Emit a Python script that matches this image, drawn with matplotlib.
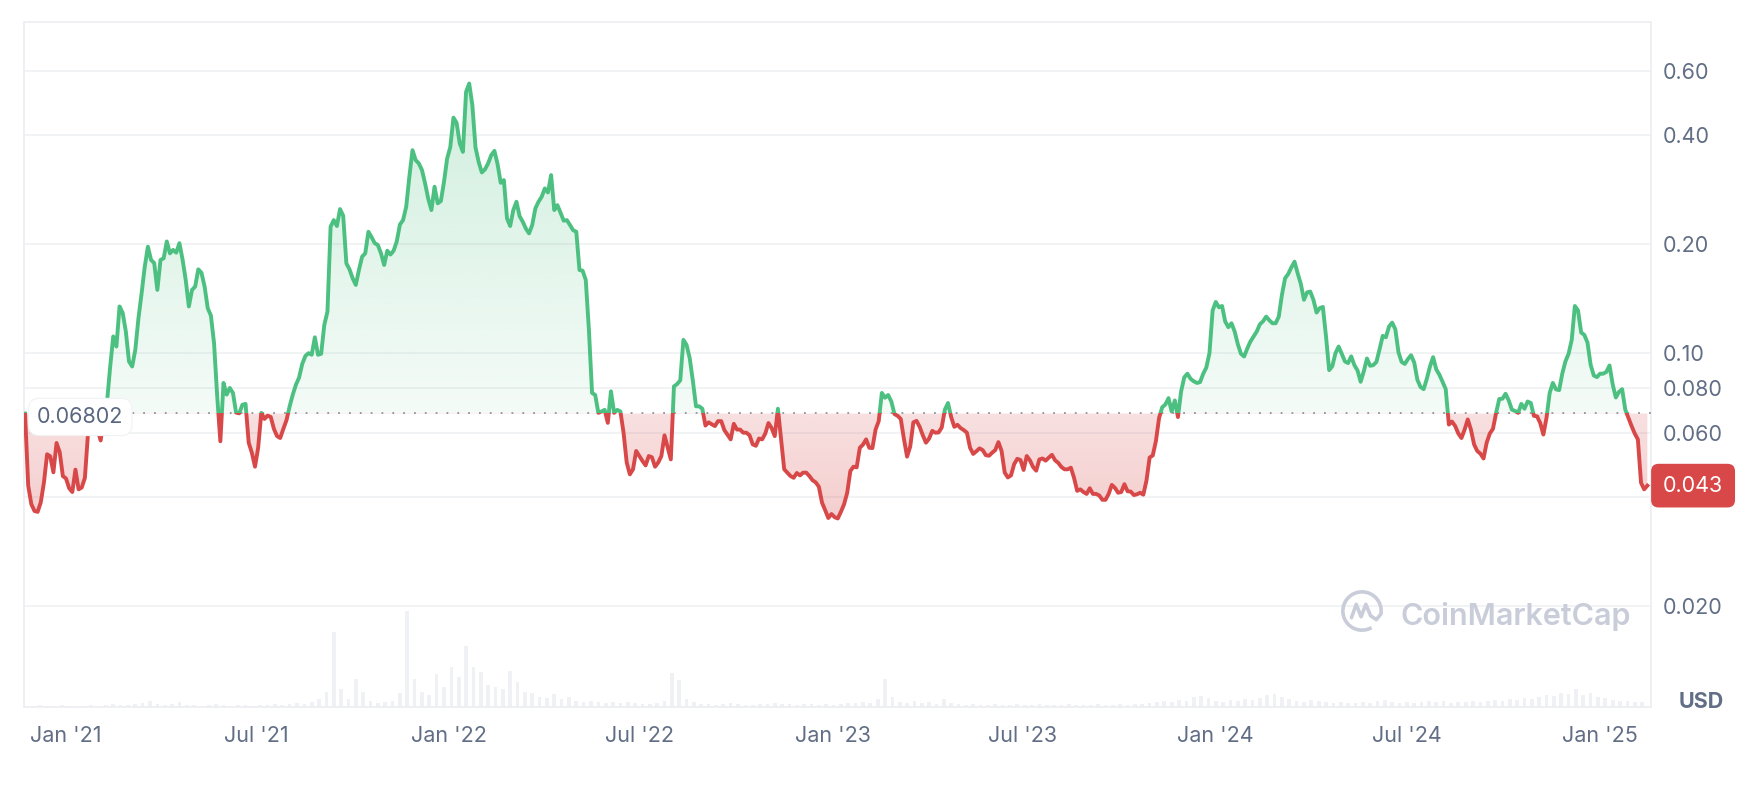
import numpy as np
import pandas as pd
import matplotlib
matplotlib.use("Agg")
import matplotlib.pyplot as plt
import matplotlib.transforms as mtransforms
from matplotlib.path import Path
from matplotlib.patches import Rectangle, Arc
from matplotlib.ticker import NullLocator

plt.rcParams['font.family'] = ['Inter', 'DejaVu Sans']

# price every 3 days, starting 2020-11-23 (USD)
start_date = "2020-11-23"
price = [
    0.0680, 0.0430, 0.0382, 0.0366, 0.0364, 0.0387, 0.0439, 0.0525, 0.0518, 0.0468,
    0.0564, 0.0532, 0.0457, 0.0450, 0.0423, 0.0413, 0.0476, 0.0420, 0.0425, 0.0452,
    0.0602, 0.0628, 0.0641, 0.0614, 0.0573, 0.0655, 0.0727, 0.0911, 0.1110, 0.1041,
    0.1343, 0.1289, 0.1145, 0.0947, 0.0917, 0.1019, 0.1246, 0.1460, 0.1729, 0.1964,
    0.1805, 0.1770, 0.1492, 0.1805, 0.1824, 0.2030, 0.1882, 0.1924, 0.1890, 0.2008,
    0.1810, 0.1590, 0.1343, 0.1492, 0.1524, 0.1700, 0.1664, 0.1524, 0.1328, 0.1267,
    0.1063, 0.0759, 0.0570, 0.0826, 0.0767, 0.0800, 0.0775, 0.0684, 0.0681, 0.0719,
    0.0723, 0.0565, 0.0530, 0.0485, 0.0547, 0.0683, 0.0657, 0.0671, 0.0665, 0.0617,
    0.0589, 0.0582, 0.0617, 0.0652, 0.0712, 0.0767, 0.0817, 0.0855, 0.0932, 0.0981,
    0.0998, 0.0988, 0.1104, 0.0988, 0.0994, 0.1194, 0.1300, 0.2229, 0.2325, 0.2239,
    0.2494, 0.2389, 0.1767, 0.1700, 0.1606, 0.1540, 0.1694, 0.1843, 0.1882, 0.2159,
    0.2087, 0.2008, 0.1985, 0.1882, 0.1748, 0.1914, 0.1868, 0.1914, 0.2030, 0.2260,
    0.2325, 0.2531, 0.3063, 0.3626, 0.3403, 0.3334, 0.3196, 0.2935, 0.2662, 0.2478,
    0.2874, 0.2586, 0.2624, 0.2967, 0.3440, 0.3700, 0.4459, 0.4313, 0.3786, 0.3587,
    0.5251, 0.5540, 0.4826, 0.3687, 0.3367, 0.3147, 0.3210, 0.3334, 0.3513, 0.3610,
    0.3320, 0.2947, 0.2998, 0.2350, 0.2239, 0.2478, 0.2613, 0.2384, 0.2301, 0.2202,
    0.2137, 0.2253, 0.2504, 0.2613, 0.2696, 0.2843, 0.2772, 0.3095, 0.2478, 0.2557,
    0.2436, 0.2316, 0.2325, 0.2253, 0.2180, 0.2159, 0.1693, 0.1686, 0.1590, 0.1157,
    0.0775, 0.0765, 0.0683, 0.0689, 0.0696, 0.0641, 0.0783, 0.0683, 0.0696, 0.0689,
    0.0602, 0.0498, 0.0462, 0.0477, 0.0536, 0.0519, 0.0503, 0.0489, 0.0519, 0.0515,
    0.0485, 0.0498, 0.0519, 0.0592, 0.0548, 0.0508, 0.0808, 0.0820, 0.0840, 0.1086,
    0.1052, 0.0967, 0.0837, 0.0712, 0.0712, 0.0701, 0.0630, 0.0643, 0.0635, 0.0628,
    0.0648, 0.0648, 0.0612, 0.0594, 0.0577, 0.0637, 0.0614, 0.0614, 0.0602, 0.0602,
    0.0592, 0.0559, 0.0554, 0.0580, 0.0577, 0.0599, 0.0640, 0.0620, 0.0589, 0.0701,
    0.0577, 0.0477, 0.0467, 0.0457, 0.0452, 0.0466, 0.0459, 0.0467, 0.0467, 0.0457,
    0.0445, 0.0439, 0.0427, 0.0386, 0.0368, 0.0350, 0.0359, 0.0352, 0.0349, 0.0364,
    0.0382, 0.0411, 0.0472, 0.0485, 0.0483, 0.0547, 0.0558, 0.0577, 0.0547, 0.0546,
    0.0614, 0.0648, 0.0775, 0.0752, 0.0765, 0.0734, 0.0678, 0.0670, 0.0657, 0.0579,
    0.0517, 0.0551, 0.0643, 0.0649, 0.0625, 0.0592, 0.0565, 0.0580, 0.0609, 0.0602,
    0.0603, 0.0622, 0.0697, 0.0727, 0.0665, 0.0625, 0.0633, 0.0620, 0.0612, 0.0602,
    0.0547, 0.0526, 0.0535, 0.0545, 0.0539, 0.0522, 0.0520, 0.0530, 0.0539, 0.0567,
    0.0536, 0.0467, 0.0453, 0.0459, 0.0493, 0.0510, 0.0506, 0.0475, 0.0519, 0.0505,
    0.0484, 0.0473, 0.0508, 0.0511, 0.0504, 0.0514, 0.0523, 0.0505, 0.0497, 0.0484,
    0.0477, 0.0477, 0.0482, 0.0452, 0.0416, 0.0420, 0.0413, 0.0408, 0.0423, 0.0408,
    0.0408, 0.0404, 0.0393, 0.0393, 0.0408, 0.0432, 0.0424, 0.0411, 0.0413, 0.0434,
    0.0415, 0.0414, 0.0405, 0.0407, 0.0411, 0.0406, 0.0444, 0.0514, 0.0521, 0.0571,
    0.0661, 0.0708, 0.0720, 0.0750, 0.0689, 0.0739, 0.0665, 0.0783, 0.0856, 0.0876,
    0.0848, 0.0835, 0.0826, 0.0830, 0.0875, 0.0911, 0.0998, 0.1309, 0.1382, 0.1336,
    0.1347, 0.1220, 0.1177, 0.1207, 0.1145, 0.1057, 0.0994, 0.0977, 0.1028, 0.1075,
    0.1110, 0.1145, 0.1199, 0.1222, 0.1259, 0.1230, 0.1207, 0.1207, 0.1259, 0.1445,
    0.1606, 0.1651, 0.1722, 0.1785, 0.1658, 0.1550, 0.1401, 0.1469, 0.1476, 0.1401,
    0.1292, 0.1329, 0.1339, 0.1110, 0.0896, 0.0919, 0.0998, 0.1041, 0.0994, 0.0947,
    0.0937, 0.0978, 0.0925, 0.0894, 0.0832, 0.0890, 0.0965, 0.0921, 0.0925, 0.0944,
    0.1023, 0.1114, 0.1104, 0.1182, 0.1212, 0.1162, 0.1004, 0.0944, 0.0932, 0.0961,
    0.0985, 0.0940, 0.0843, 0.0805, 0.0794, 0.0848, 0.0917, 0.0973, 0.0900, 0.0870,
    0.0832, 0.0794, 0.0634, 0.0646, 0.0628, 0.0599, 0.0582, 0.0614, 0.0655, 0.0614,
    0.0559, 0.0536, 0.0527, 0.0511, 0.0565, 0.0599, 0.0617, 0.0683, 0.0746, 0.0747,
    0.0771, 0.0739, 0.0697, 0.0691, 0.0683, 0.0723, 0.0701, 0.0734, 0.0727, 0.0670,
    0.0668, 0.0640, 0.0595, 0.0662, 0.0775, 0.0826, 0.0793, 0.0789, 0.0876, 0.0947,
    0.0994, 0.1086, 0.1347, 0.1309, 0.1138, 0.1121, 0.1068, 0.0927, 0.0866, 0.0857,
    0.0876, 0.0876, 0.0886, 0.0923, 0.0819, 0.0753, 0.0780, 0.0794, 0.0697, 0.0662,
    0.0628, 0.0599, 0.0577, 0.0438, 0.0420, 0.0430,
]

# weekly traded volume, rough relative units
volume = [
    1, 1, 2, 1, 1, 2, 1, 1, 1, 2, 1, 2, 3, 2, 2,
    3, 4, 6, 3, 2, 3, 5, 2, 2, 1, 2, 3, 2, 1, 2,
    2, 1, 2, 2, 3, 2, 3, 4,
    3, 5, 8, 15, 75, 18,
    8, 28, 15, 6, 4, 5, 6, 14,
    96, 28, 15, 12, 33, 20, 40, 30,
    61, 40, 35, 22, 20, 18, 36, 25,
    15, 14, 10, 9, 13, 8, 10, 6,
    5, 6, 5, 4, 5, 4, 5, 4, 3, 3, 4, 6,
    34, 27, 8, 5,
    3, 3, 2, 3, 4, 3, 2, 2, 3, 3, 4, 3, 3, 2, 3, 3, 2, 3, 2,
    3, 4, 4, 5, 4,
    8, 28, 10,
    5, 4, 6, 4, 5, 3, 8, 4, 3,
    2, 3, 2, 2, 3, 2, 2, 3, 2, 2, 3, 2, 2, 2, 3, 2, 2, 2, 3, 2, 2, 3, 2, 3, 3, 4,
    5, 6, 5, 7, 6, 10, 11, 9, 6, 5, 7, 6, 8, 7, 9, 12, 13, 10, 8, 6, 5, 7, 6, 5, 4, 5, 4,
    4, 5, 4, 6, 7, 5, 4, 5, 4, 5, 6, 5, 6,
    4, 5, 5, 6, 5, 6, 7, 6, 8, 7, 9, 8, 10, 12, 11, 14, 13, 18, 12, 14, 10, 9, 7, 6, 6, 5, 5,
]

base_price = 0.06802
last_price = 0.043

ytick_vals = [0.02, 0.04, 0.06, 0.08, 0.10, 0.20, 0.40, 0.60]
ytick_labels = ["0.020", "", "0.060", "0.080", "0.10", "0.20", "0.40", "0.60"]
xtick_dates = ["2021-01-01", "2021-07-01", "2022-01-01", "2022-07-01", "2023-01-01",
               "2023-07-01", "2024-01-01", "2024-07-01", "2025-01-01"]
xtick_labels = ["Jan '21", "Jul '21", "Jan '22", "Jul '22", "Jan '23",
                "Jul '23", "Jan '24", "Jul '24", "Jan '25"]

GREEN = "#4cc081"
RED = "#d84848"
LABEL = "#616e85"
GRID = "#eff1f4"
WATERMARK = "#c9cdd9"


def gradient(color, a_bottom, a_top, n=256):
    rgb = matplotlib.colors.to_rgb(color)
    img = np.zeros((n, 1, 4))
    img[:, 0, :3] = rgb
    img[:, 0, 3] = np.linspace(a_bottom, a_top, n)
    return img


W, H = 1752, 786
fig = plt.figure(figsize=(W / 100, H / 100), dpi=100)
left, right, top, bottom = 24, 1651, 22, 707
ax = fig.add_axes([left / W, 1 - bottom / H, (right - left) / W, (bottom - top) / H])
vax = fig.add_axes([left / W, 1 - bottom / H, (right - left) / W, 100 / H], sharex=ax)
vax.set_zorder(0)
ax.set_zorder(1)
ax.patch.set_visible(False)

dates = pd.date_range(start_date, periods=len(price), freq="3D")
vdates = pd.date_range(start_date, periods=len(volume), freq="7D")
p = np.array(price)

# volume bars
vax.bar(vdates, volume, width=3.5, color="#f0f1f5", lw=0)
vax.set_ylim(0, 100)
vax.axis("off")

ax.set_yscale("log")
ymin, ymax = 0.01053, 0.819
blend = mtransforms.blended_transform_factory(ax.transAxes, ax.transData)

line_g, = ax.plot(dates, p, color=GREEN, lw=2.8, zorder=4, solid_joinstyle="round")
line_r, = ax.plot(dates, p, color=RED, lw=2.8, zorder=4, solid_joinstyle="round")
line_g.set_clip_path(Rectangle((0, base_price), 1, 10, transform=blend))
line_r.set_clip_path(Rectangle((0, 1e-4), 1, base_price - 1e-4, transform=blend))

fb = ax.fill_between(dates, p, base_price, facecolor="none", edgecolor="none", lw=0)
clip = Path.make_compound_path(*fb.get_paths())

yb = (np.log10(base_price) - np.log10(ymin)) / (np.log10(ymax) - np.log10(ymin))
im_g = ax.imshow(gradient(GREEN, 0.06, 0.30), extent=[0, 1, yb, 1], transform=ax.transAxes,
                 origin="lower", aspect="auto", zorder=2, interpolation="bilinear")
im_r = ax.imshow(gradient(RED, 0.45, 0.17), extent=[0, 1, 0, yb], transform=ax.transAxes,
                 origin="lower", aspect="auto", zorder=2, interpolation="bilinear")
im_g.set_clip_path(clip, ax.transData)
im_r.set_clip_path(clip, ax.transData)

ax.axhline(base_price, color="#8c93a0", lw=1.3, linestyle=(0, (1, 5)), zorder=3)

ax.set_xlim(dates[0] - pd.Timedelta(days=1), dates[-1] + pd.Timedelta(days=3.5))
ax.set_ylim(ymin, ymax)

ax.yaxis.tick_right()
ax.set_yticks(ytick_vals)
ax.set_yticklabels(ytick_labels)
ax.yaxis.set_minor_locator(NullLocator())
ax.set_xticks(pd.to_datetime(xtick_dates))
ax.set_xticklabels(xtick_labels)
ax.tick_params(axis="both", length=0, labelsize=15.5, labelcolor=LABEL)
ax.tick_params(axis="y", pad=8.6)
ax.tick_params(axis="x", pad=14)

ax.set_axisbelow(True)
ax.grid(axis="y", color=GRID, lw=1.2)
ax.grid(axis="x", visible=False)
for s in ax.spines.values():
    s.set_color("#eceef1")
    s.set_linewidth(1.2)

ax.annotate("0.06802", xy=(0, base_price), xycoords=blend, xytext=(9.4, -2.5),
            textcoords="offset points", ha="left", va="center", fontsize=15.5, color="#58667e",
            bbox=dict(boxstyle="round,pad=0.4,rounding_size=0.5", fc="white", ec="#f1f2f4", lw=0.8),
            zorder=6)
ax.annotate(f"{last_price:.3f}", xy=(1, last_price), xycoords=blend, xytext=(8.6, 0),
            textcoords="offset points", ha="left", va="center", fontsize=15.5, color="white",
            bbox=dict(boxstyle="round,pad=0.55,rounding_size=0.35", fc=RED, ec="none"),
            zorder=7, annotation_clip=False)

fig.text(1701 / W, 1 - 702 / H, "USD", ha="center", va="center", fontsize=15.5,
         fontweight="bold", color=LABEL)

# watermark
fig.text(1400 / W, 1 - 625 / H, "CoinMarketCap", ha="left", va="baseline", fontsize=22,
         fontweight="semibold", color=WATERMARK)
lax = fig.add_axes([1340 / W, 1 - 633 / H, 44 / W, 44 / H])
lax.set_zorder(3)
lax.set_xlim(-1.15, 1.15)
lax.set_ylim(-1.15, 1.15)
lax.axis("off")
lax.add_patch(Arc((0, 0), 2, 2, theta1=-10, theta2=300, color=WATERMARK, lw=2.6))
lax.plot([-0.55, -0.3, -0.05, 0.2, 0.45, 0.75, 0.98], [-0.35, 0.35, -0.3, 0.35, -0.25, -0.45, -0.17],
         color=WATERMARK, lw=2.6, solid_joinstyle="round", solid_capstyle="round")

fig.savefig("out.png", dpi=100)
